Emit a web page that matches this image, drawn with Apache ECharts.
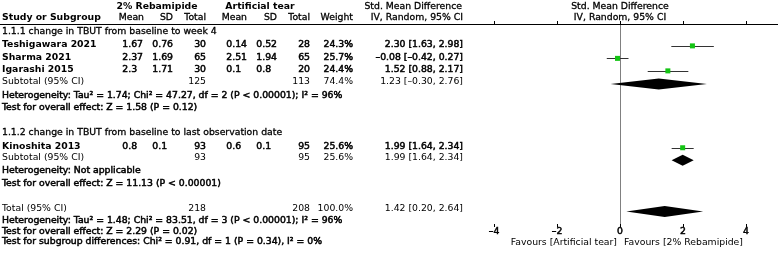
<!DOCTYPE html>
<html>
<head>
<meta charset="utf-8">
<script src="https://cdn.jsdelivr.net/npm/echarts@6/dist/echarts.min.js"></script>
<style>
  html, body { margin: 0; padding: 0; background: #fff; }
  #forest { width: 778px; height: 257px; }
</style>
</head>
<body>
<div id="forest"></div>
<script>
// ---- data ----
const studies = ['Teshigawara 2021', 'Sharma 2021', 'Igarashi 2015', 'Kinoshita 2013'];
const studyGroup = [0, 0, 0, 1];
const expMean = [1.67, 2.37, 2.3, 0.8];
const expSD = [0.76, 1.69, 1.71, 0.1];
const expN = [30, 65, 30, 93];
const ctlMean = [0.14, 2.51, 0.1, 0.6];
const ctlSD = [0.52, 1.94, 0.8, 0.1];
const ctlN = [28, 65, 20, 95];
const weight = [24.3, 25.7, 24.4, 25.6];
const smd = [2.30, -0.08, 1.52, 1.99];
const ciLow = [1.63, -0.42, 0.88, 1.64];
const ciHigh = [2.98, 0.27, 2.17, 2.34];

const groupNames = ['1.1.1 change in TBUT from baseline to week 4',
                    '1.1.2 change in TBUT from baseline to last observation date'];
const groupExpN = [125, 93];
const groupCtlN = [113, 95];
const groupWeight = [74.4, 25.6];
const groupSmd = [1.23, 1.99];
const groupLow = [-0.30, 1.64];
const groupHigh = [2.76, 2.34];
const groupHet = ['Heterogeneity: Tau² = 1.74; Chi² = 47.27, df = 2 (P < 0.00001); I² = 96%',
                  'Heterogeneity: Not applicable'];
const groupTest = ['Test for overall effect: Z = 1.58 (P = 0.12)',
                   'Test for overall effect: Z = 11.13 (P < 0.00001)'];

const totalExpN = 218;
const totalCtlN = 208;
const totalWeight = 100.0;
const totalSmd = 1.42;
const totalLow = 0.20;
const totalHigh = 2.64;
const totalHet = 'Heterogeneity: Tau² = 1.48; Chi² = 83.51, df = 3 (P < 0.00001); I² = 96%';
const totalTest = 'Test for overall effect: Z = 2.29 (P = 0.02)';
const subgroupTest = 'Test for subgroup differences: Chi² = 0.91, df = 1 (P = 0.34), I² = 0%';

const tickValues = [-4, -2, 0, 2, 4];
const favourLeft = 'Favours [Artificial tear]';
const favourRight = 'Favours [2% Rebamipide]';

// ---- layout ----
const FONT = '"DejaVu Sans", sans-serif';
const FS = 9.3;
const GRID_TOP = 24, ROW_H = 12.5, ROW_MAX = 16;
const rowPx = r => GRID_TOP + r * ROW_H;
const MARK_DY = 0.1;
const COL = { name: 2, m1: 143, sd1: 173, n1: 206, m2: 247, sd2: 277, n2: 310, w: 353, ci: 463 };
// B = real bold face; heavy/semi = regular face thickened by a stroke
const STYLE = {
    B: { weight: 'bold', stroke: 0 },
    heavy: { weight: 'normal', stroke: 0.5 },
    semi: { weight: 'normal', stroke: 0.3 },
    normal: { weight: 'normal', stroke: 0 }
};

const groupRows = [
    { head: 0.6, studies: [1.65, 2.65, 3.65], sub: 4.6, het: 5.75, test: 6.7 },
    { head: 8.7, studies: [9.8], sub: 10.7, het: 11.75, test: 12.75 }
];
const totalRows = { total: 14.8, het: 15.7, test: 16.6, diff: 17.4 };

const fontOf = w => STYLE[w].weight + ' ' + FS + 'px ' + FONT;
const measure = document.createElement('canvas').getContext('2d');
function digitWidth(w) {
    measure.font = fontOf(w);
    return measure.measureText('0').width;
}

const graphics = [];
function addText(s, x, y, align, w) {
    const style = { text: s, align: align, verticalAlign: 'middle', font: fontOf(w), fill: '#000' };
    if (STYLE[w].stroke) { style.stroke = '#000'; style.lineWidth = STYLE[w].stroke; }
    graphics.push({ type: 'text', x: x, y: y, silent: true, style: style });
}
function addDec(v, x, r, decimals, w) {
    const s = String(v);
    const d = s.indexOf('.') >= 0 ? s.split('.')[1].length : 0;
    addText(s, x - (decimals - d) * digitWidth(w), rowPx(r), 'right', w);
}
const f2 = v => v.toFixed(2).replace('-', '–');
const ciText = (m, lo, hi) => f2(m) + ' [' + f2(lo) + ', ' + f2(hi) + ']';
const pct = v => v.toFixed(1) + '%';

// header
addText('2% Rebamipide', 157, rowPx(-1.4), 'center', 'B');
addText('Artificial tear', 260, rowPx(-1.4), 'center', 'B');
addText('Std. Mean Difference', 462, rowPx(-1.4), 'right', 'semi');
addText('Std. Mean Difference', 620, rowPx(-1.4), 'center', 'semi');
addText('Study or Subgroup', COL.name, rowPx(-0.52), 'left', 'B');
addText('Mean', COL.m1 + 1, rowPx(-0.52), 'right', 'semi');
addText('SD', COL.sd1, rowPx(-0.52), 'right', 'semi');
addText('Total', COL.n1, rowPx(-0.52), 'right', 'semi');
addText('Mean', COL.m2, rowPx(-0.52), 'right', 'semi');
addText('SD', COL.sd2, rowPx(-0.52), 'right', 'semi');
addText('Total', COL.n2, rowPx(-0.52), 'right', 'semi');
addText('Weight', COL.w, rowPx(-0.52), 'right', 'semi');
addText('IV, Random, 95% CI', COL.ci, rowPx(-0.52), 'right', 'semi');
addText('IV, Random, 95% CI', 620, rowPx(-0.52), 'center', 'semi');
graphics.push({
    type: 'line', silent: true,
    shape: { x1: 0, y1: GRID_TOP + 0.5, x2: 778, y2: GRID_TOP + 0.5 },
    style: { stroke: '#000', lineWidth: 1 }
});

const ciData = [], squareData = [], diamondData = [];
groupNames.forEach((g, gi) => {
    const rows = groupRows[gi];
    addText(g, COL.name, rowPx(rows.head), 'left', 'semi');
    let k = 0;
    studies.forEach((s, i) => {
        if (studyGroup[i] !== gi) return;
        const r = rows.studies[k++];
        addText(s, COL.name, rowPx(r), 'left', 'B');
        addDec(expMean[i], COL.m1, r, 2, 'heavy');
        addDec(expSD[i], COL.sd1, r, 2, 'heavy');
        addDec(expN[i], COL.n1, r, 0, 'heavy');
        addDec(ctlMean[i], COL.m2, r, 2, 'heavy');
        addDec(ctlSD[i], COL.sd2, r, 2, 'heavy');
        addDec(ctlN[i], COL.n2, r, 0, 'heavy');
        addText(pct(weight[i]), COL.w, rowPx(r), 'right', 'heavy');
        addText(ciText(smd[i], ciLow[i], ciHigh[i]), COL.ci, rowPx(r), 'right', 'heavy');
        ciData.push([ciLow[i], ciHigh[i], r + MARK_DY]);
        squareData.push([smd[i], r + MARK_DY, weight[i]]);
    });
    addText('Subtotal (95% CI)', COL.name, rowPx(rows.sub), 'left', 'normal');
    addText(String(groupExpN[gi]), COL.n1, rowPx(rows.sub), 'right', 'normal');
    addText(String(groupCtlN[gi]), COL.n2, rowPx(rows.sub), 'right', 'normal');
    addText(pct(groupWeight[gi]), COL.w, rowPx(rows.sub), 'right', 'normal');
    addText(ciText(groupSmd[gi], groupLow[gi], groupHigh[gi]), COL.ci, rowPx(rows.sub), 'right', 'normal');
    addText(groupHet[gi], COL.name, rowPx(rows.het), 'left', 'heavy');
    addText(groupTest[gi], COL.name, rowPx(rows.test), 'left', 'heavy');
    diamondData.push([groupSmd[gi], groupLow[gi], groupHigh[gi], rows.sub + MARK_DY * 2]);
});

addText('Total (95% CI)', COL.name, rowPx(totalRows.total), 'left', 'normal');
addText(String(totalExpN), COL.n1, rowPx(totalRows.total), 'right', 'normal');
addText(String(totalCtlN), COL.n2, rowPx(totalRows.total), 'right', 'normal');
addText(pct(totalWeight), COL.w, rowPx(totalRows.total), 'right', 'normal');
addText(ciText(totalSmd, totalLow, totalHigh), COL.ci, rowPx(totalRows.total), 'right', 'normal');
addText(totalHet, COL.name, rowPx(totalRows.het), 'left', 'heavy');
addText(totalTest, COL.name, rowPx(totalRows.test), 'left', 'heavy');
addText(subgroupTest, COL.name, rowPx(totalRows.diff), 'left', 'heavy');
diamondData.push([totalSmd, totalLow, totalHigh, totalRows.total + MARK_DY * 2]);

addText(favourLeft, 617, 243, 'right', 'normal');
addText(favourRight, 624, 243, 'left', 'normal');

const xBase = {
    type: 'value', min: -4.7, max: 4.7, gridIndex: 0, position: 'bottom',
    splitLine: { show: false }
};

let chart = echarts.init(document.getElementById('forest'));
chart.setOption({
    animation: false,
    grid: { left: 472, right: 10, top: GRID_TOP, height: ROW_MAX * ROW_H },
    xAxis: [
        Object.assign({}, xBase, {
            axisLine: { lineStyle: { color: '#000', width: 1 } },
            axisTick: { customValues: tickValues, inside: true, length: 3, lineStyle: { color: '#000' } },
            axisLabel: {
                customValues: tickValues, margin: 3, color: '#000',
                fontFamily: FONT, fontSize: FS,
                textBorderColor: '#000', textBorderWidth: STYLE.heavy.stroke,
                formatter: v => String(v).replace('-', '–')
            }
        }),
        Object.assign({}, xBase, {
            axisLine: { show: false },
            axisTick: { customValues: tickValues, inside: false, length: 3, lineStyle: { color: '#000' } },
            axisLabel: { show: false }
        })
    ],
    yAxis: {
        type: 'value', min: 0, max: ROW_MAX, inverse: true,
        axisLine: { show: true, onZero: true, lineStyle: { color: '#808080', width: 1 } },
        axisTick: { show: false },
        axisLabel: { show: false },
        splitLine: { show: false }
    },
    graphic: graphics,
    series: [
        {
            type: 'custom',
            data: ciData,
            encode: { x: [0, 1], y: 2 },
            renderItem: function (params, api) {
                const a = api.coord([api.value(0), api.value(2)]);
                const b = api.coord([api.value(1), api.value(2)]);
                return {
                    type: 'line',
                    shape: { x1: a[0], y1: Math.round(a[1]) + 0.5, x2: b[0], y2: Math.round(b[1]) + 0.5 },
                    style: { stroke: '#333', lineWidth: 1 }
                };
            }
        },
        {
            type: 'scatter',
            data: squareData,
            symbol: 'rect',
            symbolSize: 5,
            itemStyle: { color: '#14c414', opacity: 1 }
        },
        {
            type: 'custom',
            data: diamondData,
            encode: { x: [0, 1, 2], y: 3 },
            renderItem: function (params, api) {
                const c = api.coord([api.value(0), api.value(3)]);
                const lo = api.coord([api.value(1), api.value(3)]);
                const hi = api.coord([api.value(2), api.value(3)]);
                const h = 5.5;
                return {
                    type: 'polygon',
                    shape: { points: [[lo[0], c[1]], [c[0], c[1] - h], [hi[0], c[1]], [c[0], c[1] + h]] },
                    style: { fill: '#000' }
                };
            }
        }
    ]
});
</script>
</body>
</html>
